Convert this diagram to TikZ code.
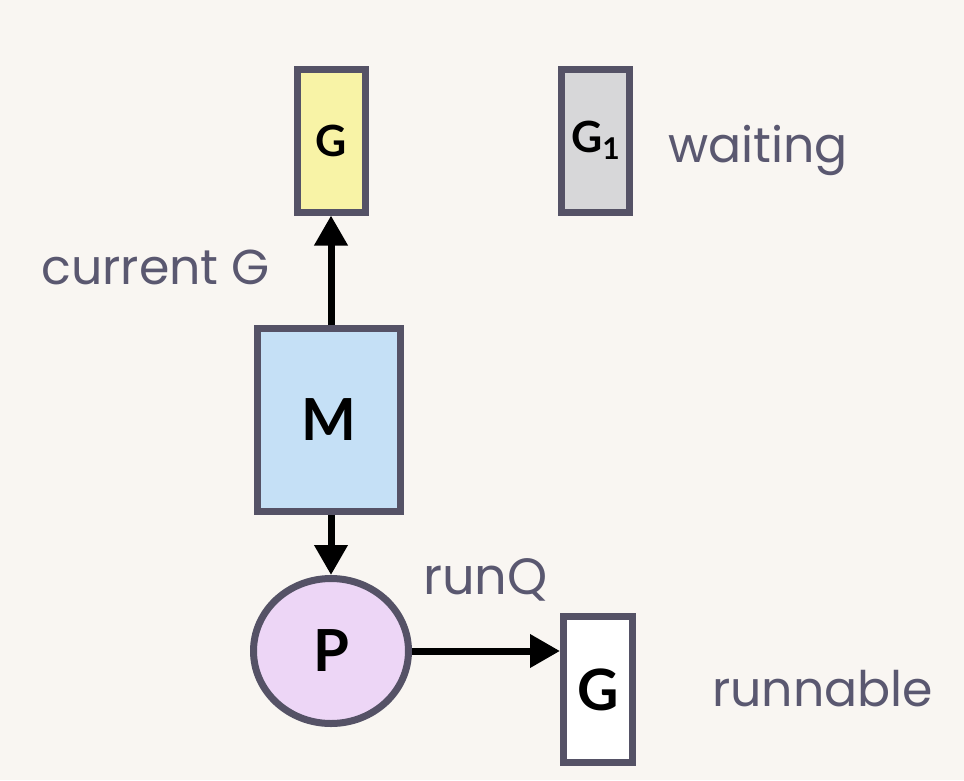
\documentclass[tikz,border=0pt]{standalone}
\usepackage{fontspec}
\setmainfont{Lato}
\newfontfamily\labfont{Poppins}
\usetikzlibrary{arrows.meta,shapes.geometric}
\definecolor{bg}{HTML}{F9F6F2}
\definecolor{bord}{HTML}{555266}
\definecolor{lbl}{HTML}{5A5870}
\definecolor{gyel}{HTML}{F8F3A6}
\definecolor{gblue}{HTML}{C5E0F6}
\definecolor{gpurp}{HTML}{EDD6F6}
\definecolor{ggray}{HTML}{D7D7D9}
\tikzset{
  box/.style={draw=bord, line width=7pt, inner sep=0pt, font=\fontsize{43}{43}\selectfont\bfseries},
  lab/.style={text=lbl, inner sep=0pt, font=\labfont\fontsize{49}{49}\selectfont},
  arr/.style={line width=7pt, -{Triangle[length=30pt,width=32pt]}},
}
\begin{document}
\begin{tikzpicture}[x=1pt,y=-1pt]
\fill[bg] (0,0) rectangle (964,780);
\useasboundingbox (0,0) rectangle (964,780);
\node[box, fill=gyel, minimum width=68pt, minimum height=143pt] (g) at (331,140.5) {G};
\node[box, fill=ggray, minimum width=68pt, minimum height=143pt] (g1) at (595.5,140.5) {G\raisebox{-7pt}{\fontsize{30}{30}\selectfont 1}};
\node[lab, anchor=base west] (wait) at (668,162) {waiting};
\node[box, fill=gblue, minimum width=143pt, minimum height=183pt, font=\fontsize{58}{58}\selectfont\bfseries] (m) at (329,420) {M};
\node[lab, anchor=base east] (cur) at (270,284) {current G};
\node[box, ellipse, fill=gpurp, minimum width=155pt, minimum height=145pt, font=\fontsize{58}{58}\selectfont\bfseries] (p) at (331,651) {P};
\node[lab, font=\labfont\fontsize{51}{51}\selectfont, anchor=base west] (runq) at (423,594) {runQ};
\node[box, fill=white, minimum width=69pt, minimum height=146pt, font=\fontsize{57}{57}\selectfont\bfseries] (rg) at (598,689.5) {G};
\node[lab, anchor=base west] (run) at (712,706) {runnable};
\draw[arr] (m.north -| g) -- (g.south);
\draw[arr] (m.south -| g) -- (p.north);
\draw[arr] (p.east) -- (p.east -| rg.west);
\end{tikzpicture}
\end{document}
